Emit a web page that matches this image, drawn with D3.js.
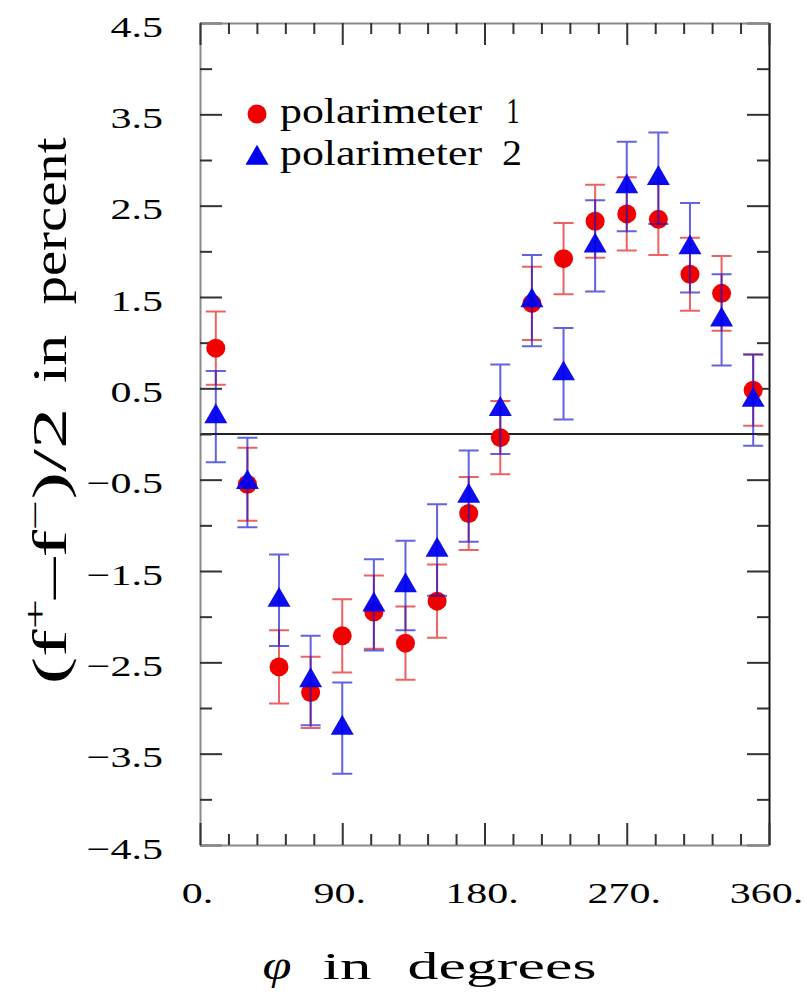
<!DOCTYPE html>
<html lang="en">
<head>
    <meta charset="UTF-8">
    <title>Polarimeter asymmetry vs phi</title>
    <style>
        body {
            margin: 0;
            background-color: #fff;
            overflow: hidden;
        }

        svg {
            display: block;
        }

        text {
            font-family: "Liberation Serif", "Times New Roman", serif;
            fill: #000;
        }
    </style>
</head>
<body>

<svg width="807" height="994"></svg>

<script src="https://d3js.org/d3.v7.min.js"></script>
<script>
    // angle bins (degrees)
    const phi = [10, 30, 50, 70, 90, 110, 130, 150, 170, 190, 210, 230, 250, 270, 290, 310, 330, 350];

    // polarimeter 1 (red circles)
    const pol1 = [0.94, -0.55, -2.55, -2.83, -2.21, -1.95, -2.29, -1.83, -0.87, -0.04, 1.43, 1.92, 2.33, 2.41, 2.35, 1.75, 1.54, 0.48];
    const pol1Err = [0.40, 0.40, 0.40, 0.39, 0.40, 0.40, 0.40, 0.40, 0.40, 0.40, 0.40, 0.39, 0.40, 0.40, 0.39, 0.40, 0.41, 0.39];

    // polarimeter 2 (blue triangles)
    const pol2 = [0.19, -0.53, -1.82, -2.70, -3.22, -1.87, -1.66, -1.27, -0.68, 0.27, 1.46, 0.66, 2.06, 2.71, 2.80, 2.04, 1.25, 0.37];
    const pol2Err = [0.50, 0.49, 0.50, 0.49, 0.50, 0.50, 0.49, 0.50, 0.50, 0.49, 0.50, 0.50, 0.50, 0.49, 0.50, 0.49, 0.50, 0.50];

    // ticks
    const yMajor = [-4.5, -3.5, -2.5, -1.5, -0.5, 0.5, 1.5, 2.5, 3.5, 4.5];
    const yMinor = [-4, -3, -2, -1, 0, 1, 2, 3, 4];
    const xMajor = [0, 90, 180, 270, 360];
    const xMinor = [18, 36, 54, 72, 108, 126, 144, 162, 198, 216, 234, 252, 288, 306, 324, 342];

    const svg = d3.select("svg");
    const pLeft = 200, pRight = 769, pTop = 23, pBottom = 845;
    const sx = 1.4; // the figure's glyphs are wide

    const x = d3.scaleLinear().domain([0, 360]).range([pLeft, pRight]);
    const y = d3.scaleLinear().domain([-4.5, 4.5]).range([pBottom, pTop]);

    function styleAxis(g, color) {
        g.select(".domain").attr("stroke", color).attr("stroke-width", 2);
        g.selectAll(".tick line").attr("stroke", "#333").attr("stroke-width", 2);
    }

    function minorTicks(g) {
        g.select(".domain").remove();
        g.selectAll(".tick line").attr("stroke", "#333").attr("stroke-width", 2);
    }

    // zero line
    svg.append("line")
        .attr("x1", pLeft).attr("x2", pRight)
        .attr("y1", y(0)).attr("y2", y(0))
        .attr("stroke", "#222")
        .attr("stroke-width", 2);

    // left axis with labels
    const gl = svg.append("g")
        .attr("transform", `translate(${pLeft},0)`)
        .call(d3.axisLeft(y).tickValues(yMajor).tickSize(-22).tickSizeOuter(0).tickFormat(d3.format(".1f")));
    styleAxis(gl, "#8a8a8a");
    gl.selectAll(".tick text")
        .attr("font-size", 30)
        .attr("font-family", "Liberation Serif, serif")
        .attr("fill", "#000")
        .attr("x", -37 / sx)
        .attr("dy", null)
        .attr("y", 13)
        .attr("transform", `scale(${sx},1)`);
    svg.append("g")
        .attr("transform", `translate(${pLeft},0)`)
        .call(d3.axisLeft(y).tickValues(yMinor).tickSize(-12).tickFormat(""))
        .call(minorTicks);

    // right axis
    const gr = svg.append("g")
        .attr("transform", `translate(${pRight},0)`)
        .call(d3.axisRight(y).tickValues(yMajor).tickSize(-22).tickSizeOuter(0).tickFormat(""));
    styleAxis(gr, "#111");
    svg.append("g")
        .attr("transform", `translate(${pRight},0)`)
        .call(d3.axisRight(y).tickValues(yMinor).tickSize(-12).tickFormat(""))
        .call(minorTicks);

    // bottom axis with labels
    const gb = svg.append("g")
        .attr("transform", `translate(0,${pBottom})`)
        .call(d3.axisBottom(x).tickValues(xMajor).tickSize(-22).tickSizeOuter(0).tickFormat(d => d + "."));
    styleAxis(gb, "#8a8a8a");
    gb.selectAll(".tick text")
        .attr("font-size", 30)
        .attr("font-family", "Liberation Serif, serif")
        .attr("fill", "#000")
        .attr("x", -3 / sx)
        .attr("dy", null)
        .attr("y", 58)
        .attr("transform", `scale(${sx},1)`);
    svg.append("g")
        .attr("transform", `translate(0,${pBottom})`)
        .call(d3.axisBottom(x).tickValues(xMinor).tickSize(-11).tickFormat(""))
        .call(minorTicks);

    // top axis
    const gt = svg.append("g")
        .attr("transform", `translate(0,${pTop})`)
        .call(d3.axisTop(x).tickValues(xMajor).tickSize(-22).tickSizeOuter(0).tickFormat(""));
    styleAxis(gt, "#8a8a8a");
    svg.append("g")
        .attr("transform", `translate(0,${pTop})`)
        .call(d3.axisTop(x).tickValues(xMinor).tickSize(-11).tickFormat(""))
        .call(minorTicks);

    // data
    const d1 = phi.map((p, i) => ({ p, v: pol1[i], e: pol1Err[i] }));
    const d2 = phi.map((p, i) => ({ p, v: pol2[i], e: pol2Err[i] }));
    const cap = 10;

    function errorBars(data, color) {
        const g = svg.append("g")
            .attr("stroke", color)
            .attr("stroke-width", 2)
            .attr("stroke-opacity", 0.65)
            .attr("fill", "none");
        g.selectAll("path")
            .data(data)
            .join("path")
            .attr("d", d => {
                const px = x(d.p), y1 = y(d.v + d.e), y2 = y(d.v - d.e);
                return `M${px},${y1}V${y2}M${px - cap},${y1}H${px + cap}M${px - cap},${y2}H${px + cap}`;
            });
    }

    const tri = d3.symbol().type(d3.symbolTriangle).size(229);

    errorBars(d1, "#e01010");
    svg.append("g")
        .selectAll("circle")
        .data(d1)
        .join("circle")
        .attr("cx", d => x(d.p))
        .attr("cy", d => y(d.v))
        .attr("r", 9.5)
        .attr("fill", "#f00000");

    errorBars(d2, "#1010d0");
    svg.append("g")
        .selectAll("path")
        .data(d2)
        .join("path")
        .attr("d", tri)
        .attr("transform", d => `translate(${x(d.p)},${y(d.v)})`)
        .attr("fill", "#0000ee")
        .attr("fill-opacity", 0.95);

    // legend
    svg.append("circle").attr("cx", 257).attr("cy", 114).attr("r", 9.5).attr("fill", "#f00000");
    svg.append("path").attr("d", tri).attr("transform", "translate(257,158)").attr("fill", "#0000ee");

    function word(txt, cx, cy, len, size, extra) {
        const t = svg.append("text")
            .attr("x", cx).attr("y", cy)
            .attr("font-size", size)
            .attr("text-anchor", "middle")
            .attr("textLength", len)
            .attr("lengthAdjust", "spacingAndGlyphs")
            .text(txt);
        if (extra) extra(t);
        return t;
    }

    word("polarimeter", 381, 123, 202, 36);
    word("1", 513, 123, 13, 36);
    word("polarimeter", 381, 165, 202, 36);
    word("2", 512, 165, 20, 36);

    // x title
    word("φ", 277, 979, 29, 40, t => t.attr("font-style", "italic"));
    word("in", 347, 979, 49, 38);
    word("degrees", 502, 979, 189, 38);

    // y title, rotated
    function yWord(cy, len, build) {
        const t = svg.append("text")
            .attr("transform", `translate(66,${cy}) scale(1.22,1) rotate(-90)`)
            .attr("font-size", 40)
            .attr("text-anchor", "middle")
            .attr("textLength", len)
            .attr("lengthAdjust", "spacingAndGlyphs");
        build(t);
    }
    yWord(221, 167, t => t.text("percent"));
    yWord(359, 48, t => t.text("in"));
    yWord(546, 277, t => {
        t.append("tspan").text("(f");
        t.append("tspan").attr("font-size", 26).attr("dy", -16).text("+");
        t.append("tspan").attr("dy", 16).text("–f");
        t.append("tspan").attr("font-size", 26).attr("dy", -16).text("−");
        t.append("tspan").attr("dy", 16).text(")/2");
    });
</script>
</body>
</html>
